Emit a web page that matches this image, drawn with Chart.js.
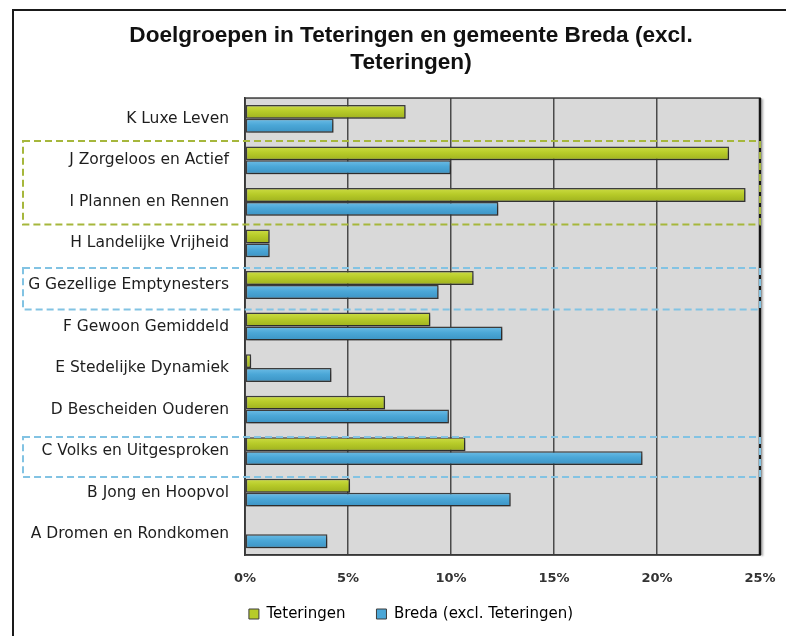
<!DOCTYPE html>
<html><head><meta charset="utf-8">
<script src="https://cdn.jsdelivr.net/npm/chart.js@4.4.0/dist/chart.umd.min.js"></script>
<style>html,body{margin:0;padding:0;background:#fff;}#wrap{width:786px;height:636px;position:relative;}</style>
</head><body><div id="wrap"><canvas id="c" width="786" height="636"></canvas></div>
<script>
const categories = ['K Luxe Leven','J Zorgeloos en Actief','I Plannen en Rennen','H Landelijke Vrijheid','G Gezellige Emptynesters','F Gewoon Gemiddeld','E Stedelijke Dynamiek','D Bescheiden Ouderen','C Volks en Uitgesproken','B Jong en Hoopvol','A Dromen en Rondkomen'];
const teteringen = [7.8, 23.5, 24.3, 1.2, 11.1, 9.0, 0.3, 6.8, 10.7, 5.1, 0.05];
const breda = [4.3, 10.0, 12.3, 1.2, 9.4, 12.5, 4.2, 9.9, 19.3, 12.9, 4.0];
const xTicks = [0, 5, 10, 15, 20, 25];
const seriesNames = ['Teteringen', 'Breda (excl. Teteringen)'];
const titleLines = ['Doelgroepen in Teteringen en gemeente Breda (excl.', 'Teteringen)'];
const highlights = [
  {from: 'J Zorgeloos en Actief', to: 'I Plannen en Rennen', color: '#a6b73c', dTop: 1.5, dBottom: 1.8},
  {from: 'G Gezellige Emptynesters', to: 'G Gezellige Emptynesters', color: '#82c3e3', dTop: 3.7, dBottom: 3.8},
  {from: 'C Volks en Uitgesproken', to: 'C Volks en Uitgesproken', color: '#82c3e3', dTop: 6.7, dBottom: 5.2}
];

const LABEL_FONT = '"DejaVu Sans", "Liberation Sans", Arial, sans-serif';
const TITLE_FONT = '"Liberation Sans", Arial, Helvetica, sans-serif';
Chart.defaults.font.family = LABEL_FONT;

const gradStops = [
  ['#cddd45', '#b7cb29', '#9eb01e'],
  ['#6dbde6', '#4ba7d7', '#3b93c4']
];

const stylePlugin = {
  id: 'styling',
  beforeDraw(chart) {
    const {ctx, chartArea: a} = chart;
    ctx.save();
    ctx.fillStyle = '#d9d9d9';
    ctx.fillRect(a.left, a.top, a.right - a.left, a.bottom - a.top);
    ctx.strokeStyle = '#1a1a1a';
    ctx.lineWidth = 2;
    ctx.strokeRect(13, 10, 820, 700);
    ctx.restore();
  },
  beforeDatasetsDraw(chart) {
    const {ctx, chartArea: a} = chart;
    ctx.save();
    ctx.strokeStyle = '#3a3a3a';
    ctx.lineWidth = 1.5;
    ctx.strokeRect(a.left, a.top, a.right - a.left, a.bottom - a.top);
    ctx.shadowColor = 'rgba(0,0,0,0.3)';
    ctx.shadowOffsetX = 2; ctx.shadowOffsetY = 1; ctx.shadowBlur = 2;
    ctx.strokeStyle = '#151515';
    ctx.lineWidth = 2.5;
    ctx.beginPath(); ctx.moveTo(a.right, a.top); ctx.lineTo(a.right, a.bottom); ctx.stroke();
    ctx.restore();
  },
  beforeDatasetDraw(chart, args) {
    const {ctx} = chart;
    const stops = gradStops[args.index];
    args.meta.data.forEach(el => {
      const t = el.y - el.height / 2, b = el.y + el.height / 2;
      const g = ctx.createLinearGradient(0, t, 0, b);
      g.addColorStop(0, stops[0]);
      g.addColorStop(0.45, stops[1]);
      g.addColorStop(1, stops[2]);
      el.options = Object.assign({}, el.options, {backgroundColor: g});
    });
    ctx.save();
    ctx.shadowColor = 'rgba(0,0,0,0.35)';
    ctx.shadowOffsetX = 2; ctx.shadowOffsetY = 2; ctx.shadowBlur = 3;
  },
  afterDatasetDraw(chart) {
    chart.ctx.restore();
  },
  afterDatasetsDraw(chart) {
    const {ctx, chartArea: a, scales: {y}} = chart;
    const half = Math.abs(y.getPixelForValue(1) - y.getPixelForValue(0)) / 2;
    ctx.save();
    ctx.lineWidth = 2;
    ctx.setLineDash([7, 4]);
    highlights.forEach(h => {
      const i1 = categories.indexOf(h.from), i2 = categories.indexOf(h.to);
      const top = y.getPixelForValue(i1) - half + h.dTop;
      const bottom = y.getPixelForValue(i2) + half + h.dBottom;
      ctx.strokeStyle = h.color;
      ctx.strokeRect(23, top, a.right - 23, bottom - top);
    });
    ctx.restore();
  }
};

const noLabelClip = s => { s._computeLabelArea = () => undefined; };

new Chart(document.getElementById('c'), {
  type: 'bar',
  data: {
    labels: categories,
    datasets: [
      {label: seriesNames[0], data: teteringen, xAxisID: 'x', yAxisID: 'y', backgroundColor: '#b7cb29', borderColor: '#3d3d3d', borderWidth: 1.5, borderSkipped: false},
      {label: seriesNames[1], data: breda, xAxisID: 'x', yAxisID: 'y', backgroundColor: '#4ba7d7', borderColor: '#3d3d3d', borderWidth: 1.5, borderSkipped: false}
    ]
  },
  options: {
    indexAxis: 'y',
    responsive: false,
    animation: false,
    devicePixelRatio: 1,
    categoryPercentage: 0.67,
    barPercentage: 1.0,
    layout: {padding: {left: 62, right: 26, top: 0, bottom: 4.5}},
    plugins: {
      title: {
        display: true,
        text: titleLines,
        color: '#111',
        font: {family: TITLE_FONT, size: 22.6, weight: 'bold', lineHeight: 1.2},
        padding: {top: 22, bottom: 21.8}
      },
      legend: {
        position: 'bottom',
        labels: {
          boxWidth: 10, boxHeight: 10, padding: 31,
          color: '#222', font: {size: 15},
          generateLabels(chart) {
            return chart.data.datasets.map((d, i) => ({
              text: d.label, fillStyle: d.backgroundColor, strokeStyle: '#3d3d3d', lineWidth: 1, datasetIndex: i, hidden: false
            }));
          }
        }
      },
      tooltip: {enabled: false}
    },
    scales: {
      x: {
        min: 0, max: 25,
        afterBuildTicks: s => { s.ticks = xTicks.map(v => ({value: v})); },
        afterFit: s => { s.height = 20.5; s.paddingLeft = 0; s.paddingRight = 0; noLabelClip(s); },
        ticks: {callback: v => v + '%', color: '#333', font: {size: 13, weight: 'bold'}, padding: 16, maxRotation: 0, autoSkip: false},
        grid: {color: '#4a4a4a', lineWidth: 1.5, drawTicks: false},
        border: {display: true, color: '#333', width: 1.5}
      },
      y: {
        afterFit: s => { s.width = 183; noLabelClip(s); },
        ticks: {color: '#1e1e1e', font: {size: 15.5}, padding: 16, autoSkip: false},
        grid: {display: false, drawTicks: false},
        border: {display: true, color: '#333', width: 1.5}
      }
    }
  },
  plugins: [stylePlugin]
});
</script>
</body></html>
